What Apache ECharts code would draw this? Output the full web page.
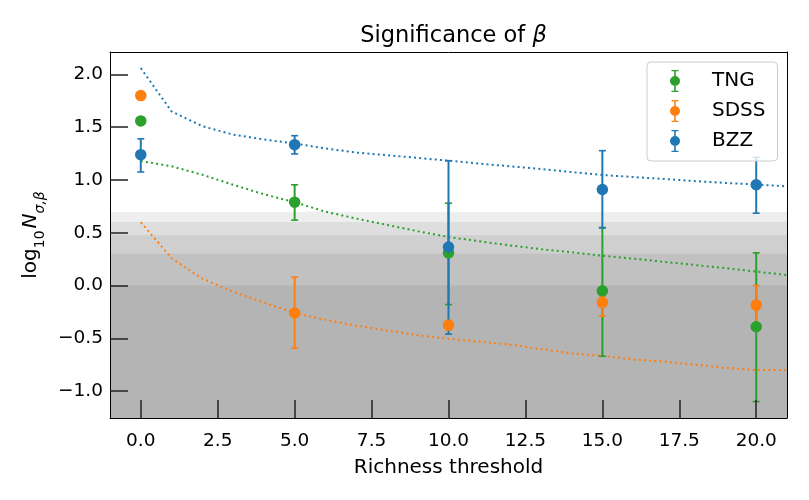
<!DOCTYPE html>
<html>
<head>
<meta charset="utf-8">
<script src="https://cdn.jsdelivr.net/npm/echarts@6/dist/echarts.min.js"></script>
<style>html,body{margin:0;padding:0;background:#fff}#c{width:809px;height:500px}</style>
</head>
<body>
<div id="c"></div>
<script>
// ---- data ----
const pointX = [0, 5, 10, 15, 20];
const tngY  = [1.56, 0.79, 0.31, -0.05, -0.39];
const tngLo = [null, 0.62, -0.18, -0.67, -1.10];
const tngHi = [null, 0.955, 0.78, 0.55, 0.31];
const sdssY  = [1.80, -0.26, -0.375, -0.16, -0.185];
const sdssLo = [null, -0.595, -0.42, -0.29, -0.37];
const sdssHi = [null, 0.08, -0.33, -0.10, 0.0];
const bzzY  = [1.24, 1.335, 0.365, 0.91, 0.955];
const bzzLo = [1.076, 1.247, -0.46, 0.545, 0.686];
const bzzHi = [1.39, 1.42, 1.183, 1.278, 1.215];

const lineX = [0,1,2,3,4,5,6,7,8,9,10,11,12,13,14,15,16,17,18,19,20,21];
const bzzLine  = [2.06,1.65,1.51,1.43,1.385,1.345,1.30,1.26,1.235,1.21,1.183,1.155,1.13,1.105,1.075,1.048,1.028,1.01,0.99,0.972,0.957,0.94];
const tngLine  = [1.18,1.13,1.05,0.955,0.865,0.79,0.70,0.635,0.575,0.515,0.46,0.42,0.38,0.345,0.315,0.283,0.255,0.225,0.195,0.165,0.132,0.10];
const sdssLine = [0.60,0.26,0.065,-0.058,-0.16,-0.26,-0.325,-0.38,-0.425,-0.47,-0.505,-0.53,-0.56,-0.60,-0.645,-0.665,-0.70,-0.72,-0.75,-0.78,-0.80,-0.80];

const sigmaLevels = [1, 2, 3, 4, 5];
const xTicks = [0, 2.5, 5, 7.5, 10, 12.5, 15, 17.5, 20];
const yTicks = [-1.0, -0.5, 0.0, 0.5, 1.0, 1.5, 2.0];
const seriesNames = ['TNG', 'SDSS', 'BZZ'];

// ---- styling ----
const C = {TNG: '#2ca02c', SDSS: '#ff7f0e', BZZ: '#1f77b4'};
const FONT = 'DejaVu Sans';
const XMIN = -1, XMAX = 21, YMIN = -1.255, YMAX = 2.213;

function pairs(xs, ys) { return xs.map((x, i) => [x, ys[i]]); }
function errData(xs, lo, hi) {
  const out = [];
  xs.forEach((x, i) => { if (lo[i] !== null && hi[i] !== null) out.push([x, lo[i], hi[i]]); });
  return out;
}
function errSeries(name, lo, hi) {
  const color = C[name];
  return {
    type: 'custom', name: name + ' err', z: 3, silent: true,
    data: errData(pointX, lo, hi),
    renderItem: function (params, api) {
      const x = api.value(0), l = api.value(1), h = api.value(2);
      const pt = api.coord([x, h]), pb = api.coord([x, l]);
      const w = 3.5;
      return {type: 'group', children: [
        {type: 'line', shape: {x1: pt[0], y1: pt[1], x2: pb[0], y2: pb[1]}, style: {stroke: color, lineWidth: 2}},
        {type: 'line', shape: {x1: pt[0]-w, y1: pt[1], x2: pt[0]+w, y2: pt[1]}, style: {stroke: color, lineWidth: 1.6}},
        {type: 'line', shape: {x1: pb[0]-w, y1: pb[1], x2: pb[0]+w, y2: pb[1]}, style: {stroke: color, lineWidth: 1.6}}
      ]};
    }
  };
}
function dotSeries(name, ys) {
  return {type: 'scatter', name: name, z: 3, symbol: 'circle', symbolSize: 11.5,
    itemStyle: {color: C[name], opacity: 1}, data: pairs(pointX, ys), silent: true};
}
function lineSeries(name, ys) {
  return {type: 'line', name: name + ' line', z: 2, showSymbol: false, symbol: 'none', silent: true,
    lineStyle: {color: C[name], width: 2, type: [2, 3.2]}, data: pairs(lineX, ys)};
}

const ICON = 'path://M1.5,0H8.5V1.2H5.8V6H4.2V1.2H1.5Z M1.5,22H8.5V20.8H5.8V16H4.2V20.8H1.5Z M0,11A5,5 0 1 1 10,11A5,5 0 1 1 0,11Z';

const fmtX = v => Number(v).toFixed(1);
const fmtY = v => Number(v).toFixed(1).replace('-', '\u2212');

const chart = echarts.init(document.getElementById('c'), null, {renderer: 'canvas'});
chart.setOption({
  animation: false,
  backgroundColor: '#ffffff',
  textStyle: {fontFamily: FONT},
  title: {
    text: '{a|Significance of }{b|β}',
    left: 448.5, top: 20, textAlign: 'center',
    textStyle: {fontWeight: 'normal', fontSize: 22.5, rich: {
      a: {fontFamily: FONT, fontSize: 22.5, color: '#000', fontWeight: 'normal'},
      b: {fontFamily: FONT, fontSize: 22.5, color: '#000', fontWeight: 'normal', fontStyle: 'italic'}
    }}
  },
  legend: {
    data: seriesNames.map(n => ({name: n, icon: ICON})),
    orient: 'vertical', left: 647, top: 62,
    itemWidth: 10, itemHeight: 22, itemGap: 8,
    padding: [8, 12, 9, 23],
    backgroundColor: 'rgba(255,255,255,0.8)', borderColor: '#cccccc', borderWidth: 1, borderRadius: 4,
    selectedMode: false,
    textStyle: {fontFamily: FONT, fontSize: 20, color: '#000', padding: [0, 0, 0, 27]}
  },
  grid: {left: 110, right: 22, top: 52, bottom: 82, containLabel: false},
  xAxis: [{
    type: 'value', min: XMIN, max: XMAX, z: 5,
    name: 'Richness threshold', nameLocation: 'middle', nameGap: 40,
    nameTextStyle: {fontFamily: FONT, fontSize: 20, color: '#000'},
    axisLine: {show: true, onZero: false, lineStyle: {color: '#000', width: 1}},
    axisTick: {show: true, inside: true, length: 18, customValues: xTicks, lineStyle: {color: '#222', width: 1.5}},
    axisLabel: {customValues: xTicks, formatter: fmtX, margin: 14, fontFamily: FONT, fontSize: 18.5, color: '#000'},
    splitLine: {show: false}
  }, {
    type: 'value', min: XMIN, max: XMAX, position: 'top', z: 5,
    axisLine: {show: true, onZero: false, lineStyle: {color: '#000', width: 1}},
    axisTick: {show: false}, axisLabel: {show: false}, splitLine: {show: false}
  }],
  yAxis: [{
    type: 'value', min: YMIN, max: YMAX, z: 5,
    name: '{a|log}{s|10}{n|N}{t|σ,β}', nameLocation: 'middle', nameGap: 66, nameRotate: 90,
    nameTextStyle: {rich: {
      a: {fontFamily: FONT, fontSize: 20, color: '#000', verticalAlign: 'bottom', lineHeight: 26},
      n: {fontFamily: FONT, fontSize: 20, color: '#000', fontStyle: 'italic', verticalAlign: 'bottom', lineHeight: 26, padding: [0, 0, 0, 2]},
      s: {fontFamily: FONT, fontSize: 14, color: '#000', verticalAlign: 'bottom', lineHeight: 26, padding: [0, 0, -6, 0]},
      t: {fontFamily: FONT, fontSize: 14, color: '#000', fontStyle: 'italic', verticalAlign: 'bottom', lineHeight: 26, padding: [0, 0, -6, 0]}
    }},
    axisLine: {show: true, onZero: false, lineStyle: {color: '#000', width: 1}},
    axisTick: {show: true, inside: true, length: 18, customValues: yTicks, lineStyle: {color: '#222', width: 1.5}},
    axisLabel: {customValues: yTicks, formatter: fmtY, margin: 7, fontFamily: FONT, fontSize: 18.5, color: '#000'},
    splitLine: {show: false}
  }, {
    type: 'value', min: YMIN, max: YMAX, position: 'right', z: 5,
    axisLine: {show: true, onZero: false, lineStyle: {color: '#000', width: 1}},
    axisTick: {show: false}, axisLabel: {show: false}, splitLine: {show: false}
  }],
  series: [
    {
      type: 'custom', name: 'sigma bands', z: 1, silent: true, clip: true,
      data: sigmaLevels.map(k => [0, Math.log10(k)]),
      renderItem: function (params, api) {
        const cs = params.coordSys;
        const yTop = api.coord([0, api.value(1)])[1];
        const yBot = cs.y + cs.height;
        return {type: 'rect', shape: {x: cs.x, y: yTop, width: cs.width, height: yBot - yTop},
          style: {fill: 'rgba(0,0,0,0.068)'}};
      }
    },
    lineSeries('BZZ', bzzLine),
    lineSeries('TNG', tngLine),
    lineSeries('SDSS', sdssLine),
    errSeries('TNG', tngLo, tngHi),
    dotSeries('TNG', tngY),
    errSeries('SDSS', sdssLo, sdssHi),
    dotSeries('SDSS', sdssY),
    errSeries('BZZ', bzzLo, bzzHi),
    dotSeries('BZZ', bzzY)
  ]
});
</script>
</body>
</html>
